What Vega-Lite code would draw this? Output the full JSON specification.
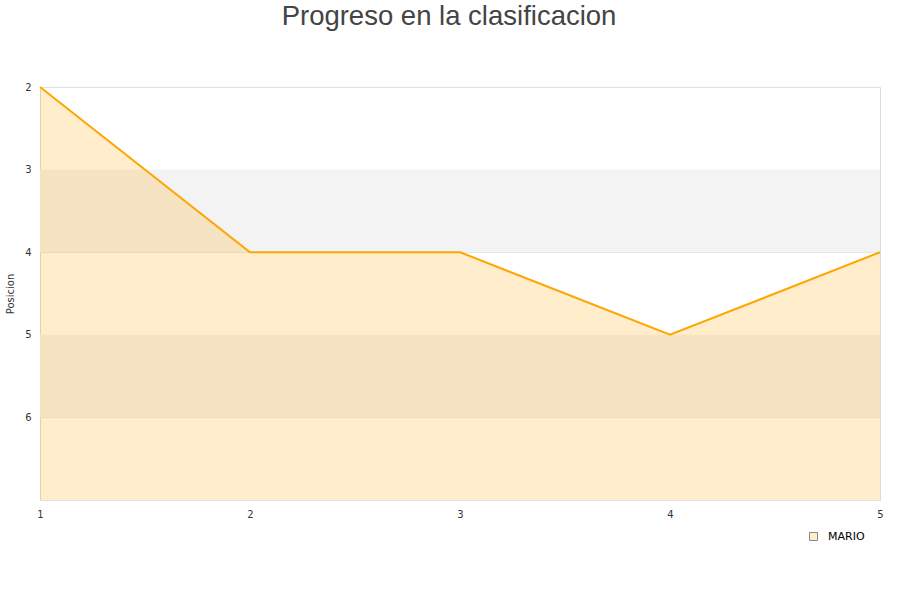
{
  "$schema": "https://vega.github.io/schema/vega-lite/v6.json",
  "width": 840,
  "height": 413,
  "autosize": {"type": "none"},
  "padding": {"left": 40, "top": 87, "right": 20, "bottom": 100},
  "background": "white",
  "title": {
    "text": "Progreso en la clasificacion",
    "font": "Liberation Sans",
    "fontSize": 27.5,
    "fontWeight": "normal",
    "color": "#444444",
    "anchor": "middle",
    "offset": 52,
    "dx": -11
  },
  "config": {
    "view": {"stroke": "#dddddd", "strokeWidth": 1},
    "axis": {"labelFont": "DejaVu Sans", "titleFont": "DejaVu Sans"}
  },
  "datasets": {
    "series": [
      {"jornada": 1, "posicion": 2, "jugador": "MARIO"},
      {"jornada": 2, "posicion": 4, "jugador": "MARIO"},
      {"jornada": 3, "posicion": 4, "jugador": "MARIO"},
      {"jornada": 4, "posicion": 5, "jugador": "MARIO"},
      {"jornada": 5, "posicion": 4, "jugador": "MARIO"}
    ],
    "bands": [
      {"desde": 3, "hasta": 4},
      {"desde": 5, "hasta": 6}
    ]
  },
  "layer": [
    {
      "data": {"name": "bands"},
      "mark": {"type": "rect", "color": "#f3f3f3"},
      "encoding": {
        "y": {"field": "desde", "type": "quantitative", "scale": {"domain": [2, 7], "reverse": true, "nice": false, "zero": false}},
        "y2": {"field": "hasta"}
      }
    },
    {
      "data": {"name": "series"},
      "mark": {"type": "area", "color": "#ffa500", "opacity": 0.2},
      "encoding": {
        "x": {"field": "jornada", "type": "quantitative"},
        "y": {"field": "posicion", "type": "quantitative"},
        "y2": {"datum": 7}
      }
    },
    {
      "data": {"name": "series"},
      "mark": {"type": "line", "strokeWidth": 2, "color": "#ffa500"},
      "encoding": {
        "x": {
          "field": "jornada",
          "type": "quantitative",
          "scale": {"domain": [1, 5], "nice": false, "zero": false},
          "axis": {
            "title": null,
            "values": [1, 2, 3, 4, 5],
            "format": "d",
            "grid": false,
            "domain": false,
            "ticks": false,
            "labelPadding": 9,
            "labelFontSize": 10,
            "labelColor": "#333333",
            "labelFlush": false
          }
        },
        "y": {
          "field": "posicion",
          "type": "quantitative",
          "axis": {
            "title": "Posicion",
            "titleFontSize": 10,
            "titleFontWeight": "normal",
            "titleColor": "#333333",
            "titlePadding": 9,
            "values": [2, 3, 4, 5, 6, 7],
            "format": "d",
            "labelExpr": "datum.value == 7 ? '' : datum.label",
            "grid": true,
            "gridColor": "#e0e0e0",
            "domain": false,
            "ticks": false,
            "labelPadding": 9,
            "labelFontSize": 10,
            "labelColor": "#333333"
          }
        }
      }
    },
    {
      "data": {"name": "series"},
      "mark": {"type": "point", "filled": true, "shape": "square", "size": 0},
      "encoding": {
        "x": {"field": "jornada", "type": "quantitative"},
        "y": {"field": "posicion", "type": "quantitative"},
        "fill": {
          "field": "jugador",
          "type": "nominal",
          "scale": {"range": ["#ffedcc"]},
          "legend": {
            "title": null,
            "orient": "none",
            "legendX": 768,
            "legendY": 444,
            "symbolType": "square",
            "symbolSize": 64,
            "symbolStrokeColor": "#888888",
            "symbolStrokeWidth": 1,
            "symbolOpacity": 1,
            "labelOffset": 9,
            "labelFont": "DejaVu Sans",
            "labelFontSize": 11,
            "labelColor": "#000000"
          }
        }
      }
    }
  ]
}
